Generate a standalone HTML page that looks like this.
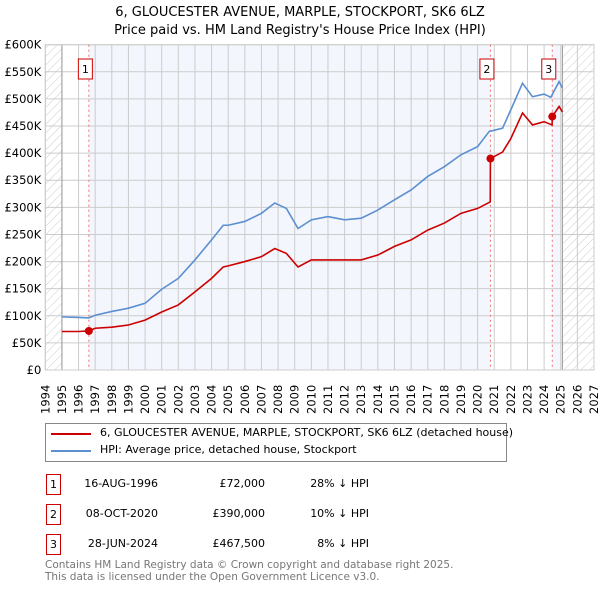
<!DOCTYPE html>
<html><head><meta charset="utf-8"><style>
body{margin:0;background:#fff;font-family:"DejaVu Sans","Liberation Sans",sans-serif;}
#wrap{position:relative;width:600px;height:590px;overflow:hidden}
.t{position:absolute;white-space:nowrap;font-size:12px;color:#000}
</style></head><body><div id="wrap">
<div class="t" style="left:0;width:600px;text-align:center;top:4px;font-size:13px;line-height:18px">6, GLOUCESTER AVENUE, MARPLE, STOCKPORT, SK6 6LZ<br>Price paid vs. HM Land Registry's House Price Index (HPI)</div>
<svg id="svg" width="600" height="420" style="position:absolute;left:0;top:0">
<defs><pattern id="hatch" width="6" height="6" patternUnits="userSpaceOnUse" patternTransform="rotate(45)"><line x1="0" y1="0" x2="0" y2="6" stroke="#ccc" stroke-width="1"/></pattern></defs>
<g id="g"></g></svg>
<div style="position:absolute;left:45px;top:423px;width:460px;height:37px;border:1px solid #888"></div>
<div style="position:absolute;left:51px;top:433px;width:40px;height:2px;background:#cc0000"></div>
<div class="t" style="left:100px;top:426px;font-size:11px;line-height:14px">6, GLOUCESTER AVENUE, MARPLE, STOCKPORT, SK6 6LZ (detached house)</div>
<div style="position:absolute;left:51px;top:450px;width:40px;height:2px;background:#5b8fd0"></div>
<div class="t" style="left:100px;top:443px;font-size:11px;line-height:14px">HPI: Average price, detached house, Stockport</div>
<div id="tbl"></div>
<div class="t" style="left:45px;top:560px;color:#777;font-size:10.5px;line-height:11.5px">Contains HM Land Registry data © Crown copyright and database right 2025.<br>This data is licensed under the Open Government Licence v3.0.</div>
</div>
<script>
const hpiYears=[1995,1996,1996.6,1997,1998,1999,2000,2001,2002,2003,2004,2004.7,2005,2006,2007,2007.8,2008.5,2009.2,2010,2011,2012,2013,2014,2015,2016,2017,2018,2019,2020,2020.7,2021.5,2022,2022.7,2023.3,2024,2024.4,2024.9,2025.1];
const hpiValues=[98000,97000,96000,101000,108000,114000,123000,149000,169000,203000,240000,267000,267000,274000,289000,308000,298000,261000,277000,283000,277000,280000,295000,314000,332000,357000,375000,397000,412000,440000,446000,480000,529000,504000,509000,503000,532000,520000];
const ppYears=[1995,1996,1996.62,1997,1998,1999,2000,2001,2002,2003,2004,2004.7,2005,2006,2007,2007.8,2008.5,2009.2,2010,2011,2012,2013,2014,2015,2016,2017,2018,2019,2020,2020.76,2020.77,2021.5,2022,2022.7,2023.3,2024,2024.48,2024.49,2024.9,2025.1];
const ppValues=[71000,71000,72000,77000,79000,83000,92000,107000,120000,144000,169000,190000,192000,200000,209000,224000,215000,190000,203000,203000,203000,203000,212000,228000,240000,258000,271000,289000,298000,310000,390000,402000,427000,474000,452000,458000,452000,467500,486000,476000];
const saleYears=[1996.62,2020.77,2024.49];
const saleValues=[72000,390000,467500];
const saleLabels=["1","2","3"];
const saleDates=["16-AUG-1996","08-OCT-2020","28-JUN-2024"];
const salePrices=["£72,000","£390,000","£467,500"];
const saleDiffs=["28% ↓ HPI","10% ↓ HPI","8% ↓ HPI"];
const yTicks=[0,50000,100000,150000,200000,250000,300000,350000,400000,450000,500000,550000,600000];
const yTickLabels=["£0","£50K","£100K","£150K","£200K","£250K","£300K","£350K","£400K","£450K","£500K","£550K","£600K"];
const xYears=[1994,1995,1996,1997,1998,1999,2000,2001,2002,2003,2004,2005,2006,2007,2008,2009,2010,2011,2012,2013,2014,2015,2016,2017,2018,2019,2020,2021,2022,2023,2024,2025,2026,2027];
const X0=45.3,X1=594,Y0=370,Y1=44.7,dataEnd=2025.1;
const xs=y=>X0+(y-1994)/(2027-1994)*(X1-X0);
const ys=v=>Y0-v/600000*(Y0-Y1);
const g=document.getElementById('g');const NS="http://www.w3.org/2000/svg";
function mk(t,a){const e=document.createElementNS(NS,t);for(const k in a)e.setAttribute(k,a[k]);g.appendChild(e);return e;}
let e;
e=mk('rect',{x:xs(1995),y:Y1,width:xs(saleYears[0])-xs(1995),height:Y0-Y1,fill:'#fff'});


e=mk('rect',{x:xs(saleYears[0]),y:Y1,width:xs(saleYears[1])-xs(saleYears[0]),height:Y0-Y1,fill:'#f3f6fd'});


e=mk('rect',{x:xs(saleYears[2]),y:Y1,width:xs(dataEnd)-xs(saleYears[2]),height:Y0-Y1,fill:'#f3f6fd'});


e=mk('rect',{x:X0,y:Y1,width:xs(1995)-X0,height:Y0-Y1,fill:'url(#hatch)'});


e=mk('rect',{x:xs(dataEnd),y:Y1,width:X1-xs(dataEnd),height:Y0-Y1,fill:'url(#hatch)'});


yTicks.forEach((v,i)=>{
 e=mk('line',{x1:X0,x2:X1,y1:ys(v),y2:ys(v),stroke:'#ccc','stroke-width':1});
 
 
 e=mk('text',{x:X0-4,y:ys(v)+4,'text-anchor':'end','font-size':'11.5','font-family':'DejaVu Sans, Liberation Sans, sans-serif'});
 e.textContent=yTickLabels[i];
 
 
});
xYears.forEach(yr=>{
 e=mk('line',{x1:xs(yr),x2:xs(yr),y1:Y1,y2:Y0,stroke:'#ccc','stroke-width':1});
 
 
 e=mk('text',{transform:`translate(${xs(yr)+4},${Y0+44}) rotate(-90)`,'font-size':'11.5','font-family':'DejaVu Sans, Liberation Sans, sans-serif'});
 e.textContent=yr;
 
 
});
e=mk('line',{x1:xs(1995),x2:xs(1995),y1:Y1,y2:Y0,stroke:'#999'});


e=mk('line',{x1:xs(dataEnd),x2:xs(dataEnd),y1:Y1,y2:Y0,stroke:'#999'});


e=mk('rect',{x:X0,y:Y1,width:X1-X0,height:Y0-Y1,fill:'none',stroke:'#ccc'});


saleYears.forEach((yr,i)=>{
 e=mk('line',{x1:xs(yr),x2:xs(yr),y1:Y1,y2:Y0,stroke:'#f07070','stroke-dasharray':'2,3'});
 
 
});
e=mk('polyline',{points:hpiYears.map((y,i)=>xs(y)+','+ys(hpiValues[i])).join(' '),fill:'none',stroke:'#5b8fd0','stroke-width':1.6});


e=mk('polyline',{points:ppYears.map((y,i)=>xs(y)+','+ys(ppValues[i])).join(' '),fill:'none',stroke:'#cc0000','stroke-width':1.6});


saleYears.forEach((yr,i)=>{
 e=mk('circle',{cx:xs(yr),cy:ys(saleValues[i]),r:4,fill:'#cc0000'});
 
 
 e=mk('rect',{x:xs(yr)-10.5,y:59,width:14,height:20,fill:'#fff',stroke:'#cc0000'});
 
 
 e=mk('text',{x:xs(yr)-3.5,y:73,'text-anchor':'middle','font-size':'11','font-family':'DejaVu Sans, sans-serif'});
 e.textContent=saleLabels[i];
 
 
});
const tbl=document.getElementById('tbl');
saleLabels.forEach((l,i)=>{
 const top=474+i*30;
 const row=document.createElement('div');
 
 
 row.innerHTML=`<div style="position:absolute;left:46px;top:${top}px;width:13px;height:19px;border:1px solid #cc0000;font-size:11px;text-align:center;line-height:19px">${l}</div>
<div class="t" style="left:70px;width:88px;text-align:right;top:${top+3}px;font-size:11px">${saleDates[i]}</div>
<div class="t" style="left:180px;width:85px;text-align:right;top:${top+3}px;font-size:11px">${salePrices[i]}</div>
<div class="t" style="left:290px;width:79px;text-align:right;top:${top+3}px;font-size:11px">${saleDiffs[i]}</div>`;
 tbl.appendChild(row);
});
</script></body></html>
